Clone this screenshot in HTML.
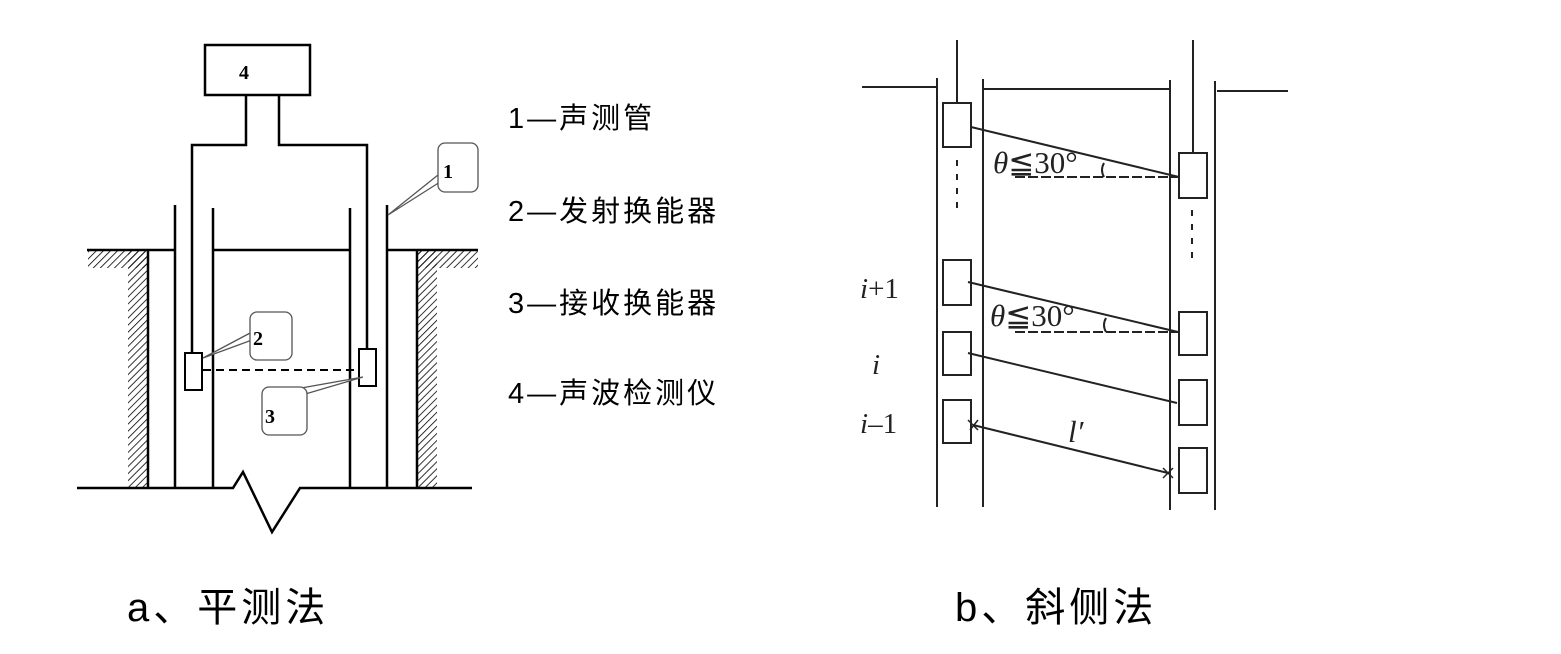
<!DOCTYPE html>
<html><head><meta charset="utf-8"><style>
body{margin:0;background:#fff;}
svg{display:block}
</style></head><body>
<svg width="1561" height="654" viewBox="0 0 1561 654" xmlns="http://www.w3.org/2000/svg">
<defs>
<pattern id="h" width="5" height="5" patternUnits="userSpaceOnUse" patternTransform="rotate(45)">
<line x1="0" y1="0" x2="0" y2="5" stroke="#000" stroke-width="1.6"/>
</pattern>
</defs>
<g stroke="#000" stroke-width="2.5" fill="none">
<rect x="205" y="45" width="105" height="50"/>
<polyline points="192,353 192,145 246,145 246,95"/>
<polyline points="367,349 367,145 279,145 279,95"/>
<line x1="175" y1="205" x2="175" y2="487"/>
<line x1="213" y1="208" x2="213" y2="487"/>
<line x1="350" y1="208" x2="350" y2="487"/>
<line x1="387" y1="205" x2="387" y2="487"/>
<line x1="87" y1="250" x2="175" y2="250"/>
<line x1="213" y1="250" x2="350" y2="250"/>
<line x1="387" y1="250" x2="478" y2="250"/>
<line x1="148" y1="250" x2="148" y2="487"/>
<line x1="417" y1="250" x2="417" y2="487"/>
<polyline points="77,488 233,488 243,472 272,532 300,488 472,488"/>
<rect x="185" y="353" width="17" height="37" stroke-width="2"/>
<rect x="359" y="349" width="17" height="37" stroke-width="2"/>
<line x1="203" y1="370" x2="357" y2="370" stroke-dasharray="8,5" stroke-width="2"/>
</g>
<g stroke="none" fill="url(#h)">
<rect x="88" y="251" width="60" height="17"/>
<rect x="128" y="251" width="20" height="236"/>
<rect x="417" y="251" width="61" height="17"/>
<rect x="417" y="251" width="20" height="236"/>
</g>
<g stroke="#555" stroke-width="1.3" fill="#fff">
<path d="M438,175 L388,215 L440,182"/>
<rect x="438" y="143" width="40" height="49" rx="7"/>
<path d="M252,332 L203,358 L252,340"/>
<rect x="250" y="312" width="42" height="48" rx="7"/>
<path d="M262,395 L363,377 L268,405"/>
<rect x="262" y="387" width="45" height="48" rx="7"/>
</g>
<g font-family="Liberation Serif, serif" font-size="20" font-weight="bold" fill="#000">
<text x="239" y="79">4</text>
<text x="443" y="178">1</text>
<text x="253" y="345">2</text>
<text x="265" y="423">3</text>
</g>
<g font-family="Liberation Sans, 'Noto Sans CJK SC', sans-serif" font-size="29" fill="#000" letter-spacing="3">
<text x="508" y="128">1—声测管</text>
<text x="508" y="221">2—发射换能器</text>
<text x="508" y="313">3—接收换能器</text>
<text x="508" y="403">4—声波检测仪</text>
</g>
<g font-family="Liberation Sans, 'Noto Sans CJK SC', sans-serif" font-size="40" fill="#000" letter-spacing="4">
<text x="127" y="621">a、平测法</text>
<text x="955" y="621">b、斜侧法</text>
</g>
<g stroke="#222" stroke-width="2" fill="none">
<line x1="862" y1="87" x2="937" y2="87"/>
<line x1="983" y1="89" x2="1170" y2="89"/>
<line x1="1217" y1="91" x2="1288" y2="91"/>
<line x1="937" y1="78" x2="937" y2="507"/>
<line x1="983" y1="79" x2="983" y2="507"/>
<line x1="1170" y1="80" x2="1170" y2="510"/>
<line x1="1215" y1="81" x2="1215" y2="510"/>
<line x1="957" y1="40" x2="957" y2="103"/>
<line x1="1193" y1="40" x2="1193" y2="153"/>
<rect x="943" y="103" width="28" height="44"/>
<rect x="943" y="260" width="28" height="45"/>
<rect x="943" y="332" width="28" height="43"/>
<rect x="943" y="400" width="28" height="43"/>
<rect x="1179" y="153" width="28" height="45"/>
<rect x="1179" y="312" width="28" height="43"/>
<rect x="1179" y="380" width="28" height="45"/>
<rect x="1179" y="448" width="28" height="45"/>
<line x1="957" y1="160" x2="957" y2="210" stroke-dasharray="6,8"/>
<line x1="1192" y1="210" x2="1192" y2="263" stroke-dasharray="6,8"/>
<line x1="971" y1="127" x2="1179" y2="177"/>
<line x1="1015" y1="177" x2="1179" y2="177" stroke-dasharray="10,3"/>
<line x1="968" y1="282" x2="1178" y2="332"/>
<line x1="1015" y1="332" x2="1178" y2="332" stroke-dasharray="10,3"/>
<line x1="968" y1="353" x2="1177" y2="403"/>
<line x1="973" y1="425" x2="1168" y2="473"/>
<path d="M1104,163 q-4,7 0,14"/>
<path d="M1106,318 q-4,7 0,14"/>
<path d="M978,420 l-8,10 M968,420 l10,10 M1163,468 l10,10 M1173,468 l-10,10" stroke-width="1.5"/>
</g>
<g font-family="Liberation Serif, serif" font-size="31" fill="#222">
<text x="993" y="173"><tspan font-style="italic">θ</tspan>≦30°</text>
<text x="990" y="326"><tspan font-style="italic">θ</tspan>≦30°</text>
<text x="860" y="298" font-size="29"><tspan font-style="italic">i</tspan>+1</text>
<text x="872" y="374" font-size="29" font-style="italic">i</text>
<text x="860" y="433" font-size="29"><tspan font-style="italic">i</tspan>–1</text>
<text x="1068" y="442" font-style="italic">l′</text>
</g>
</svg>
</body></html>
